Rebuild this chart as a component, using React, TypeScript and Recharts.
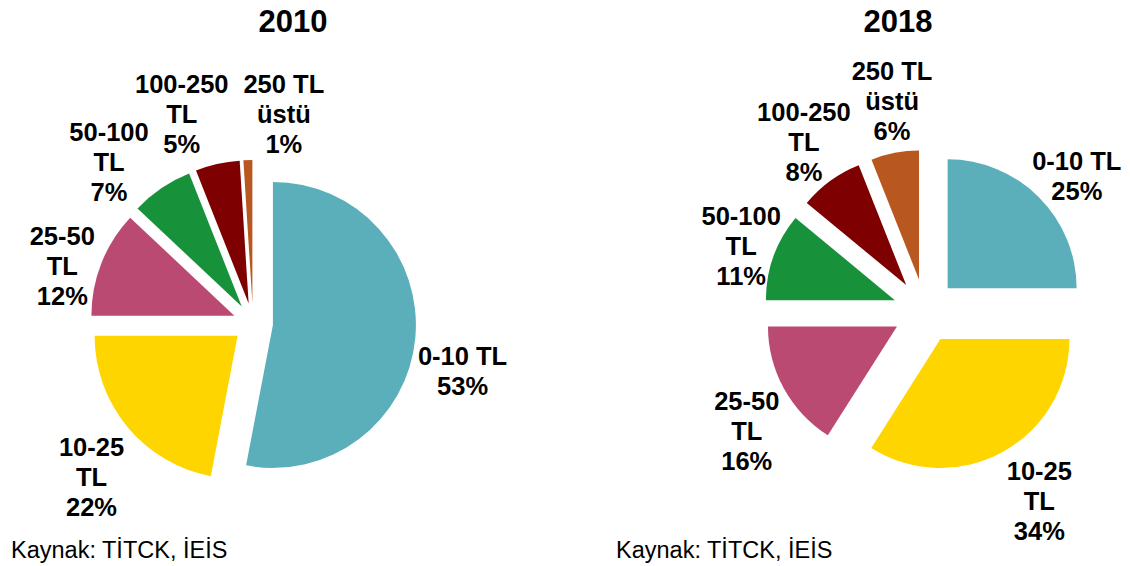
import { PieChart, Pie, Cell, Sector } from 'recharts';

const categories = ['0-10 TL', '10-25 TL', '25-50 TL', '50-100 TL', '100-250 TL', '250 TL üstü'];
const labelLines = [['0-10 TL'], ['10-25', 'TL'], ['25-50', 'TL'], ['50-100', 'TL'], ['100-250', 'TL'], ['250 TL', 'üstü']];
const share2010 = [53, 22, 12, 7, 5, 1];
const share2018 = [25, 34, 16, 11, 8, 6];
const colors = ['#5AAFBB', '#FFD500', '#BB4A73', '#18923A', '#7F0000', '#B8571F'];

const data2010 = categories.map((name, i) => ({ name, value: share2010[i] }));
const data2018 = categories.map((name, i) => ({ name, value: share2018[i] }));

// label placement: angle tweak (deg) + distance from pie centre
const adj2010 = [-7.5, 4, 5, 7.6, 6.2, -10.2];
const dist2010 = [215, 223, 199, 216, 221, 211];
const adj2018 = [-3.4, 2.2, 5.2, 0.3, -0.4, -1.9];
const dist2018 = [203, 222, 215, 195, 208, 213];

const RAD = Math.PI / 180;
const FONT = '"Liberation Sans", Arial, sans-serif';
const LINE = 30;

const explodedShape = (offset: number) => (props: any) => {
  const { cx, cy, midAngle, innerRadius, outerRadius, startAngle, endAngle, fill } = props;
  const dx = offset * Math.cos(-midAngle * RAD);
  const dy = offset * Math.sin(-midAngle * RAD);
  return (
    <Sector
      cx={cx + dx}
      cy={cy + dy}
      innerRadius={innerRadius}
      outerRadius={outerRadius}
      startAngle={startAngle}
      endAngle={endAngle}
      fill={fill}
      stroke="none"
    />
  );
};

const makeLabel = (values: number[], adj: number[], dist: number[]) => (props: any) => {
  const { cx, cy, midAngle, index } = props;
  const a = (midAngle + adj[index]) * RAD;
  const x = cx + dist[index] * Math.cos(a);
  const y = cy - dist[index] * Math.sin(a);
  const lines = [...labelLines[index], `${values[index]}%`];
  const top = y - ((lines.length - 1) * LINE) / 2 + 9;
  return (
    <text x={x} y={top} textAnchor="middle" fontFamily={FONT} fontSize={25.5} fontWeight="bold" fill="#000">
      {lines.map((l, i) => (
        <tspan key={i} x={x} y={top + i * LINE}>
          {l}
        </tspan>
      ))}
    </text>
  );
};

const titleStyle: React.CSSProperties = {
  position: 'absolute',
  top: 4,
  width: 200,
  textAlign: 'center',
  fontFamily: FONT,
  fontWeight: 'bold',
  fontSize: 31,
  lineHeight: '36px',
  color: '#000',
};

const sourceStyle: React.CSSProperties = {
  position: 'absolute',
  top: 536,
  fontFamily: FONT,
  fontSize: 23.5,
  lineHeight: '28px',
  color: '#000',
  whiteSpace: 'nowrap',
};

export default function App() {
  return (
    <div style={{ position: 'absolute', left: 0, top: 0, width: 1130, height: 566, background: '#fff', overflow: 'hidden' }}>
      <div style={{ ...titleStyle, left: 193 }}>2010</div>
      <div style={{ ...titleStyle, left: 798 }}>2018</div>
      <PieChart width={1130} height={566}>
        <Pie
          data={data2010}
          dataKey="value"
          nameKey="name"
          cx={248}
          cy={318}
          outerRadius={143}
          startAngle={90}
          endAngle={-270}
          stroke="none"
          labelLine={false}
          label={makeLabel(share2010, adj2010, dist2010)}
          shape={explodedShape(20)}
          isAnimationActive={false}
        >
          {data2010.map((d, i) => (
            <Cell key={d.name} fill={colors[i]} />
          ))}
        </Pie>
        <Pie
          data={data2018}
          dataKey="value"
          nameKey="name"
          cx={920}
          cy={306}
          outerRadius={129}
          startAngle={90}
          endAngle={-270}
          stroke="none"
          labelLine={false}
          label={makeLabel(share2018, adj2018, dist2018)}
          shape={explodedShape(32)}
          isAnimationActive={false}
        >
          {data2018.map((d, i) => (
            <Cell key={d.name} fill={colors[i]} />
          ))}
        </Pie>
      </PieChart>
      <div style={{ ...sourceStyle, left: 11 }}>Kaynak: TİTCK, İEİS</div>
      <div style={{ ...sourceStyle, left: 616 }}>Kaynak: TİTCK, İEİS</div>
    </div>
  );
}
